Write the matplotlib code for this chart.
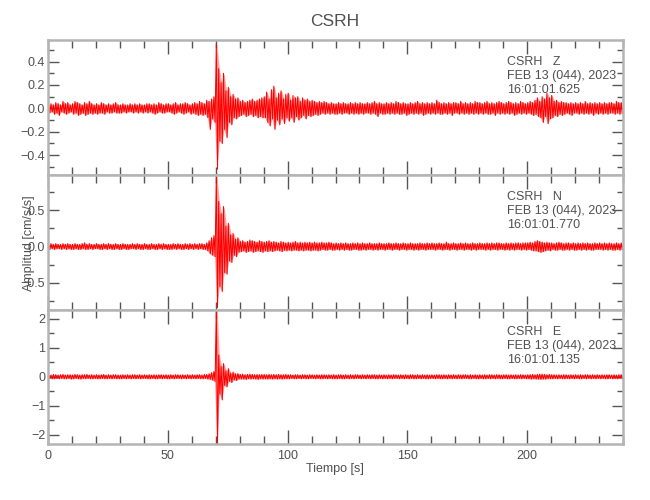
import numpy as np
import matplotlib
matplotlib.use("Agg")
import matplotlib.pyplot as plt
from matplotlib.ticker import MultipleLocator

plt.rcParams['font.family'] = ['Liberation Sans', 'DejaVu Sans']

# ---------------- data (per-second peak amplitudes, units of 0.01 cm/s/s) -------------
station = "CSRH"
date_label = "FEB 13 (044), 2023"
components = ["Z", "N", "E"]
start_times = ["16:01:01.625", "16:01:01.770", "16:01:01.135"]

z_up = [3,4,3,5,4,3,6,4,5,3, 4,6,5,4,3,5,4,6,4,3,
        4,3,5,4,3,4,3,4,5,3, 3,4,3,3,4,3,4,3,4,3,
        3,4,4,3,4,3,5,4,3,4, 4,3,4,5,3,4,4,5,4,3,
        4,5,4,6,5,4,7,6,8,10, 55,34,22,30,15,18,10,12,8,9,
        6,7,5,6,7,8,6,7,8,9, 10,14,8,16,19,9,13,15,8,12,
        13,7,11,9,10,6,9,7,8,6, 7,6,5,6,5,6,5,4,5,4,
        4,5,4,5,4,4,5,4,5,4, 5,4,4,5,4,5,6,4,5,4,
        4,5,4,5,4,6,5,4,5,4, 4,5,4,5,6,4,5,4,5,4,
        5,4,7,5,4,5,4,5,4,5, 5,4,6,4,5,4,5,4,6,5,
        5,4,5,6,4,5,4,5,6,5, 4,5,6,5,4,5,4,6,5,4,
        5,6,5,7,9,6,10,8,13,9, 11,6,7,5,6,5,5,4,5,4,
        5,4,5,4,6,4,5,4,5,4, 5,4,5,4,5,5,4,6,5,5]
z_lo = [4,3,5,4,6,3,4,5,4,3, 5,4,6,5,4,6,5,4,5,4,
        5,4,4,5,3,4,4,3,4,4, 4,3,4,3,3,4,3,4,3,4,
        3,4,3,4,5,4,3,4,4,3, 3,4,5,4,3,4,5,4,3,5,
        4,5,6,5,6,5,8,18,9,12, 52,28,30,18,25,12,14,8,9,7,
        6,5,7,6,5,7,6,8,7,8, 8,12,15,9,18,10,14,9,13,8,
        11,8,12,7,10,8,6,9,6,7, 6,5,6,5,4,5,4,5,4,5,
        5,4,5,4,4,5,4,5,4,5, 4,5,4,4,5,4,5,7,4,5,
        5,4,5,4,5,4,5,5,4,6, 5,4,5,4,5,4,6,5,4,5,
        4,5,4,5,5,4,5,4,6,4, 4,5,4,5,4,5,4,5,4,5,
        4,5,4,5,5,4,6,4,5,4, 5,4,5,4,6,5,4,5,4,5,
        4,5,6,5,7,8,12,7,13,9, 8,6,7,5,6,5,4,5,6,4,
        4,5,4,5,4,5,4,6,4,5, 4,5,4,5,4,4,5,4,5,4]

n_up = [3,4,3,4,3,3,4,3,4,3, 3,4,3,3,4,5,3,4,3,3,
        4,3,3,4,3,4,3,3,4,3, 3,4,3,3,3,4,3,4,3,3,
        4,3,3,4,3,3,4,3,4,3, 3,3,4,3,4,3,3,4,3,4,
        3,4,3,4,4,3,5,8,12,15, 98,62,45,55,28,32,16,18,10,12,
        7,8,6,7,9,8,7,6,8,7, 6,7,8,6,7,6,5,7,6,5,
        6,5,6,7,5,6,5,6,5,6, 5,6,5,5,6,5,5,6,5,4,
        5,4,5,4,5,4,4,5,4,5, 4,5,4,4,5,4,4,4,5,4,
        4,4,5,4,4,5,4,4,5,4, 4,5,4,4,4,5,4,4,5,4,
        5,4,4,5,4,4,6,4,4,5, 4,4,5,4,5,4,4,5,4,4,
        5,4,4,5,4,5,4,5,5,4, 4,5,4,5,4,5,5,4,5,5,
        5,6,5,7,8,7,6,5,6,5, 5,4,5,6,5,4,5,5,4,5,
        4,5,4,5,4,5,4,4,5,4, 5,4,5,4,5,4,4,5,4,5]
n_lo = [4,3,4,3,3,4,3,4,3,4, 4,3,4,4,3,4,4,3,4,3,
        3,4,4,3,4,3,4,4,3,4, 4,3,4,4,3,3,4,3,4,4,
        3,4,4,3,4,4,3,4,3,4, 4,4,3,4,3,4,4,3,4,3,
        4,3,4,3,4,4,6,10,12,14, 84,55,62,36,38,20,22,12,14,8,
        7,6,8,7,6,8,7,6,7,8, 6,7,6,7,6,5,6,7,5,6,
        5,6,5,5,6,5,6,5,5,6, 5,5,6,5,4,5,5,4,5,5,
        4,5,4,5,4,5,5,4,4,5, 5,4,5,4,4,5,4,5,4,4,
        5,4,4,5,4,4,5,4,4,5, 4,4,5,4,5,4,4,5,4,4,
        4,5,4,4,5,4,4,5,4,4, 5,4,4,5,4,4,5,4,5,4,
        4,4,5,4,5,4,4,5,4,4, 5,4,5,4,5,4,4,5,4,5,
        4,5,6,6,7,8,7,6,5,6, 4,5,5,4,5,5,4,5,4,5,
        5,4,5,4,5,4,5,5,4,4, 4,5,4,5,4,5,5,4,5,4]

e_up = [7,6,8,7,6,7,8,6,7,7, 6,8,7,6,7,7,8,6,7,6,
        7,6,7,8,6,7,6,7,7,6, 6,7,6,7,6,7,7,6,7,6,
        7,6,7,6,7,6,7,7,6,7, 6,7,6,7,7,6,7,6,7,6,
        7,6,7,7,6,8,8,10,14,18, 240,75,35,45,20,28,12,16,10,11,
        8,9,7,8,9,8,7,8,7,8, 8,7,8,7,8,7,8,7,7,8,
        7,7,6,7,7,6,7,7,6,7, 7,6,7,6,7,7,6,7,6,7,
        6,7,7,6,7,6,7,6,7,7, 6,7,6,7,6,7,7,6,7,6,
        7,6,7,6,7,7,6,7,6,7, 6,7,7,6,7,6,7,6,7,6,
        7,6,7,7,6,7,6,7,6,7, 6,7,6,7,7,6,7,6,7,6,
        7,6,7,6,7,7,6,7,7,6, 7,7,6,7,6,7,6,7,7,6,
        7,7,8,7,8,9,9,8,7,8, 7,7,6,7,6,7,7,6,7,6,
        7,6,7,6,7,7,6,7,6,7, 6,7,6,7,7,6,7,6,7,7]
e_lo = [6,7,7,6,7,6,7,7,6,8, 7,6,7,8,6,7,6,7,7,6,
        7,7,6,7,7,6,7,6,7,7, 7,6,7,6,7,6,7,6,7,6,
        6,7,7,6,7,7,6,7,6,7, 7,6,7,6,6,7,6,7,6,7,
        6,7,6,7,7,6,8,9,12,16, 240,60,80,30,35,16,20,11,13,8,
        8,8,9,7,8,7,8,9,7,8, 7,8,7,8,7,8,7,8,7,7,
        7,6,7,7,6,7,6,7,7,6, 6,7,6,7,7,6,7,6,7,7,
        7,6,7,7,6,7,6,7,6,6, 7,6,7,6,7,6,7,7,6,7,
        6,7,6,7,6,6,7,6,7,6, 7,6,7,7,6,7,6,7,7,6,
        6,7,6,7,7,6,7,6,7,6, 7,6,7,6,6,7,7,6,7,7,
        6,7,7,6,7,6,7,6,7,7, 6,7,7,6,7,7,6,7,6,7,
        7,8,7,8,8,9,8,8,7,7, 7,6,7,6,7,7,6,7,6,7,
        6,7,7,6,7,6,7,6,7,6, 7,6,7,7,6,7,6,7,6,7]

traces = [(z_up, z_lo), (n_up, n_lo), (e_up, e_lo)]
ylims = [(-0.57, 0.585), (-0.875, 0.985), (-2.32, 2.30)]
major_steps = [0.2, 0.5, 1.0]
minor_steps = [0.1, 0.25, 0.5]
ylabels_fmt = ["{:.1f}", "{:.1f}", "{:.0f}"]
x_max = 240

# ---------------- figure ----------------
W, H = 650, 500
fig = plt.figure(figsize=(W / 100, H / 100), dpi=100)

left_px, right_px = 48, 623
panel_px = [(40, 175), (175, 310), (310, 444)]
gray_spine = '#b4b4b4'
gray_text = '#505050'
FS = 9

for i, (ytop, ybot) in enumerate(panel_px):
    ax = fig.add_axes([left_px / W, 1 - ybot / H, (right_px - left_px) / W, (ybot - ytop) / H])
    up, lo = traces[i]
    m = min(len(up), len(lo))
    up = np.asarray(up[:m], dtype=float) * 0.01
    lo = np.asarray(lo[:m], dtype=float) * 0.01
    t = np.arange(m, dtype=float)
    # lighter core of the trace
    ax.fill_between(t + 0.5, up, -lo, color='#ff3030', lw=0, alpha=0.45)
    # spiky oscillation through the per-second peaks
    xs = np.column_stack([t + 0.25, t + 0.75]).ravel()
    ys = np.column_stack([up, -lo]).ravel()
    ax.plot(xs, ys, color='#ff0000', lw=0.75)

    ax.set_xlim(0, x_max)
    ax.set_ylim(*ylims[i])
    ax.xaxis.set_major_locator(MultipleLocator(50))
    ax.xaxis.set_minor_locator(MultipleLocator(10))
    ax.yaxis.set_major_locator(MultipleLocator(major_steps[i]))
    ax.yaxis.set_minor_locator(MultipleLocator(minor_steps[i]))
    fmt = ylabels_fmt[i]
    ax.yaxis.set_major_formatter(plt.FuncFormatter(
        lambda v, p, fmt=fmt: (fmt.format(v) if abs(v) > 1e-9 else fmt.format(0.0)).replace('-', '\u2212')))

    for s in ax.spines.values():
        s.set_color(gray_spine)
        s.set_linewidth(1.8)
    ax.tick_params(which='both', direction='in', top=True, right=True,
                   color='#555555', labelcolor=gray_text, labelsize=FS)
    ax.tick_params(axis='x', which='major', length=10, width=1.0, pad=4)
    ax.tick_params(axis='x', which='minor', length=6, width=1.0)
    ax.tick_params(axis='y', which='major', length=8, width=1.0, pad=2)
    ax.tick_params(axis='y', which='minor', length=4, width=1.0)
    if i < 2:
        ax.tick_params(axis='x', labelbottom=False)

    ax.text(0.798, 0.837, f"{station}   {components[i]}", transform=ax.transAxes,
            fontsize=FS, color=gray_text, ha='left', va='center')
    ax.text(0.798, 0.733, date_label, transform=ax.transAxes,
            fontsize=FS, color=gray_text, ha='left', va='center')
    ax.text(0.798, 0.629, start_times[i], transform=ax.transAxes,
            fontsize=FS, color=gray_text, ha='left', va='center')

fig.text(335 / W, 1 - 22 / H, station, ha='center', va='center', fontsize=12.5, color=gray_text)
fig.text(335 / W, 1 - 469 / H, "Tiempo [s]", ha='center', va='center', fontsize=FS, color=gray_text)
fig.text(29 / W, 1 - 243 / H, "Amplitud [cm/s/s]", ha='center', va='center', rotation=90,
         fontsize=FS, color=gray_text)

fig.savefig("out.png", dpi=100, facecolor='white')
